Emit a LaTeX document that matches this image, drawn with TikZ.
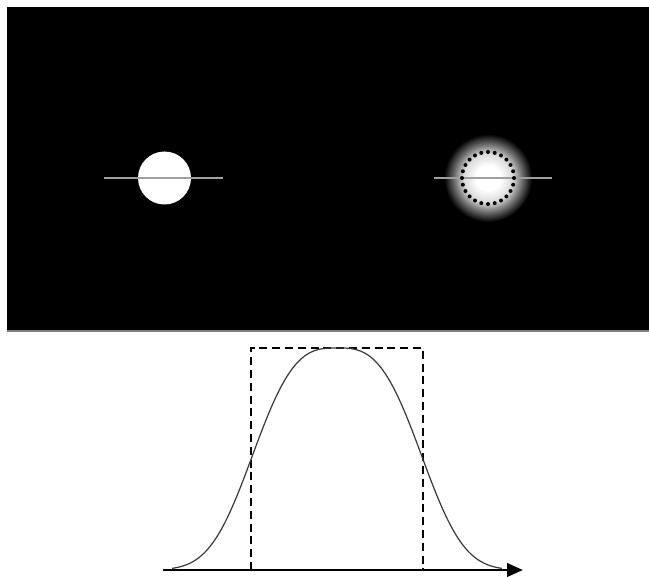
\documentclass[tikz,border=0pt]{standalone}
\usetikzlibrary{arrows.meta}
\pgfdeclareradialshading{glowshade}{\pgfpoint{0bp}{0bp}}{color(0bp)=(white); color(7bp)=(white); color(14bp)=(white!85!black); color(19bp)=(white!45!black); color(25bp)=(black); color(50bp)=(black)}
\begin{document}
\begin{tikzpicture}[x=0.75pt,y=-0.75pt,
  profileline/.style={gray!45!black, line width=0.9pt},
  cutline/.style={gray!75, line width=0.8pt},
  boxdash/.style={black, line width=1.4pt, dash pattern=on 6pt off 3.6pt},
  axisline/.style={black, line width=2.2pt, -{Triangle[length=12pt,width=10pt]}},
  dotmark/.style={fill=black}]
\useasboundingbox[fill=white] (0,0) rectangle (649,577);
% black panel
\fill[black] (7,7) rectangle (649,331);
\draw[gray, line width=1pt] (7,331) -- (649,331);
% left sharp disc
\coordinate (cl) at (164.5,178);
\fill[white] (cl) circle[radius=26.5];
\draw[cutline] (104,178) -- (223,178);
% right blurred disc
\coordinate (cr) at (488,178);
\shade[shading=glowshade] (cr) circle[radius=44];
\draw[cutline] (434,178) -- (552,178);
\foreach \a in {0,15,...,345}
  \fill[dotmark] ([shift={(\a:26)}]cr) circle[radius=2];
% profile
\coordinate (axs) at (163,570);
\coordinate (axe) at (523,570);
\draw[boxdash] (251,570) -- (251,348) -- (423,348) -- (423,570);
\draw[profileline] plot[domain=-165:165, samples=240, smooth]
  ({337+\x},{570-222*exp(-((abs(\x)/97)^3))});
\draw[axisline] (axs) -- (axe);
\end{tikzpicture}
\end{document}
